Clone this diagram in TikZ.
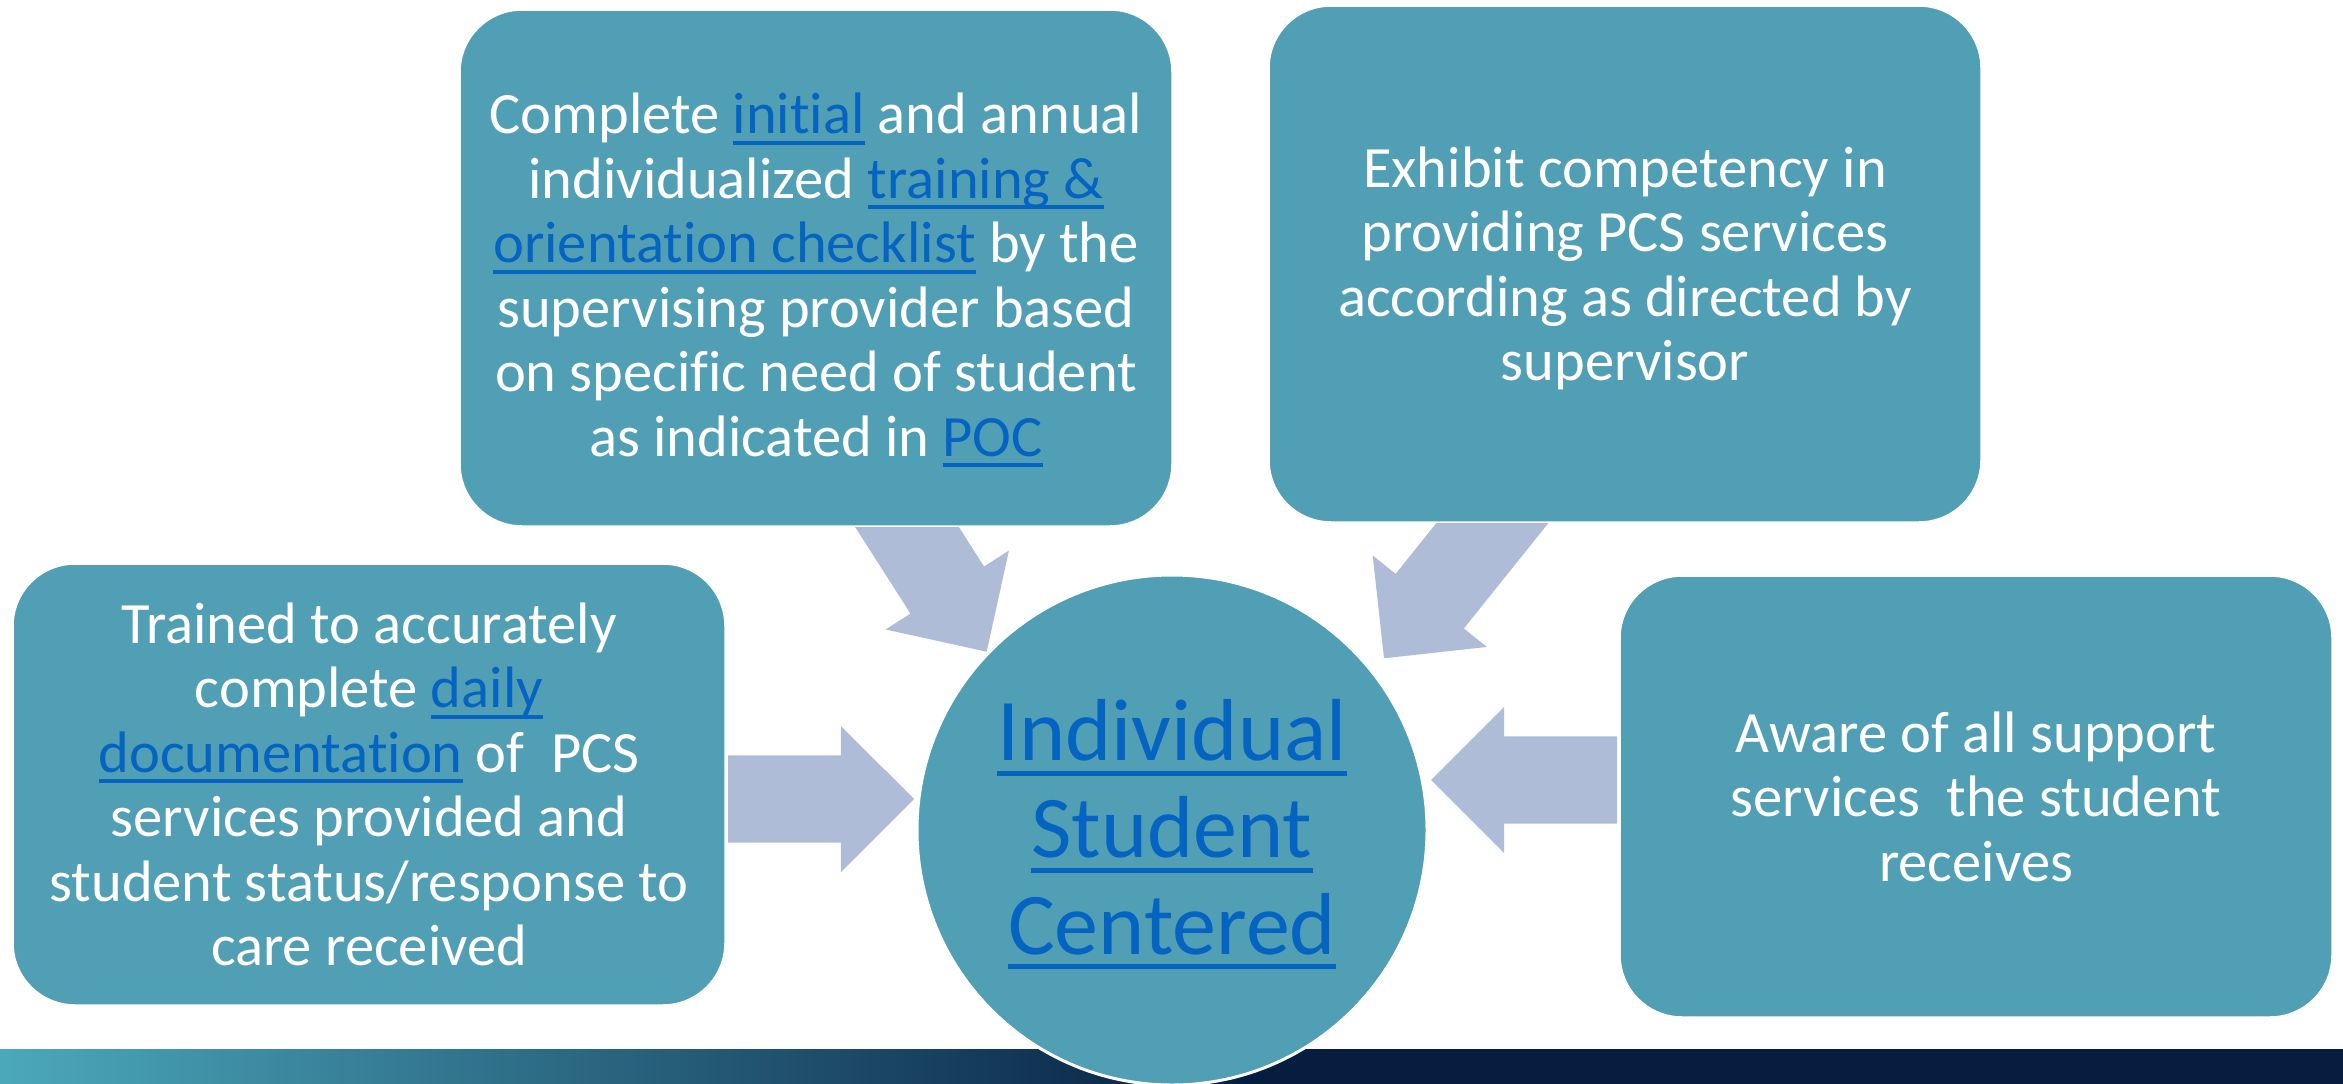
\documentclass[tikz,border=0pt]{standalone}
\usepackage{fontspec}
\setmainfont{Carlito}[Ligatures=NoCommon]
\usetikzlibrary{shapes.arrows}

\definecolor{boxteal}{RGB}{81,159,180}
\definecolor{arrowblue}{RGB}{175,188,216}
\definecolor{linkblue}{RGB}{5,99,193}
\definecolor{barteal}{RGB}{75,168,186}
\definecolor{barnavy}{RGB}{6,29,64}

% underlined link text
\newlength{\lnkdepth}
\newlength{\lnkrule}
\newsavebox{\lnkbox}
\newcommand{\lnk}[1]{{\color{linkblue}\sbox{\lnkbox}{#1}%
  \rlap{\rule[-\lnkdepth]{\wd\lnkbox}{\lnkrule}}\usebox{\lnkbox}}}
% strut to push a text block down inside its box
\newcommand{\topstrut}[1]{\rule{0pt}{#1}}
\newcommand{\boxfont}{\fontsize{58.5}{64.5}\selectfont\setlength{\lnkdepth}{11pt}\setlength{\lnkrule}{4pt}}
\newcommand{\hubfont}{\fontsize{88}{96.7}\selectfont\setlength{\lnkdepth}{15pt}\setlength{\lnkrule}{5pt}}

\begin{document}
\begin{tikzpicture}[x=1pt,y=-1pt,
    box/.style={draw=white,line width=1.5pt,fill=boxteal,rounded corners=62pt,
      minimum width=712pt,inner sep=0pt,align=center,text=white,font=\boxfont},
    hub/.style={circle,draw=white,line width=3pt,fill=boxteal,minimum size=510pt,
      inner sep=0pt,align=center,font=\hubfont},
    blockarrow/.style={single arrow,fill=arrowblue,inner xsep=0pt,inner ysep=43.5pt,
      single arrow head extend=29.5pt,outer sep=0pt,anchor=tip}]
  \useasboundingbox (0,0) rectangle (2343,1084);

  % bottom bar
  \shade[left color=barteal,right color=barnavy] (0,1049) rectangle (1250,1084);
  \fill[barnavy] (1249,1049) rectangle (2343,1084);

  % arrows
  \node[blockarrow,minimum height=186pt] (arrL) at (914,799) {};
  \node[blockarrow,minimum height=186pt,rotate=180] (arrR) at (1431,780) {};
  \node[blockarrow,minimum height=230pt,rotate=-57.4] (arrTL) at (986.7,651.7) {};
  \node[blockarrow,minimum height=230pt,rotate=-128.7] (arrTR) at (1384,658.3) {};

  % boxes
  \node[box,minimum height=516pt] (training) at (816,268)
    {\topstrut{65pt}Complete \lnk{initial} and annual\\
     individualized \lnk{training \&}\\
     \lnk{orientation checklist} by the\\
     supervising provider based\\
     on specific need of student\\
     as indicated in \lnk{POC}};
  \node[box,minimum height=516pt] (competency) at (1625,264)
    {\topstrut{49pt}Exhibit competency in\\
     providing PCS services\\
     according as directed by\\
     supervisor};
  \node[box,minimum height=441pt] (documentation) at (369,784.5)
    {Trained to accurately\\
     complete \lnk{daily}\\
     \lnk{documentation} of \ PCS\\
     services provided and\\
     student status/response to\\
     care received};
  \node[box,minimum height=441pt] (support) at (1976,796.5)
    {Aware of all support\\
     services \ the student\\
     receives};

  % centre
  \node[hub] (student) at (1172,830)
    {\topstrut{70pt}\lnk{Individual}\\ \lnk{Student}\\ \lnk{Centered}};
\end{tikzpicture}
\end{document}
